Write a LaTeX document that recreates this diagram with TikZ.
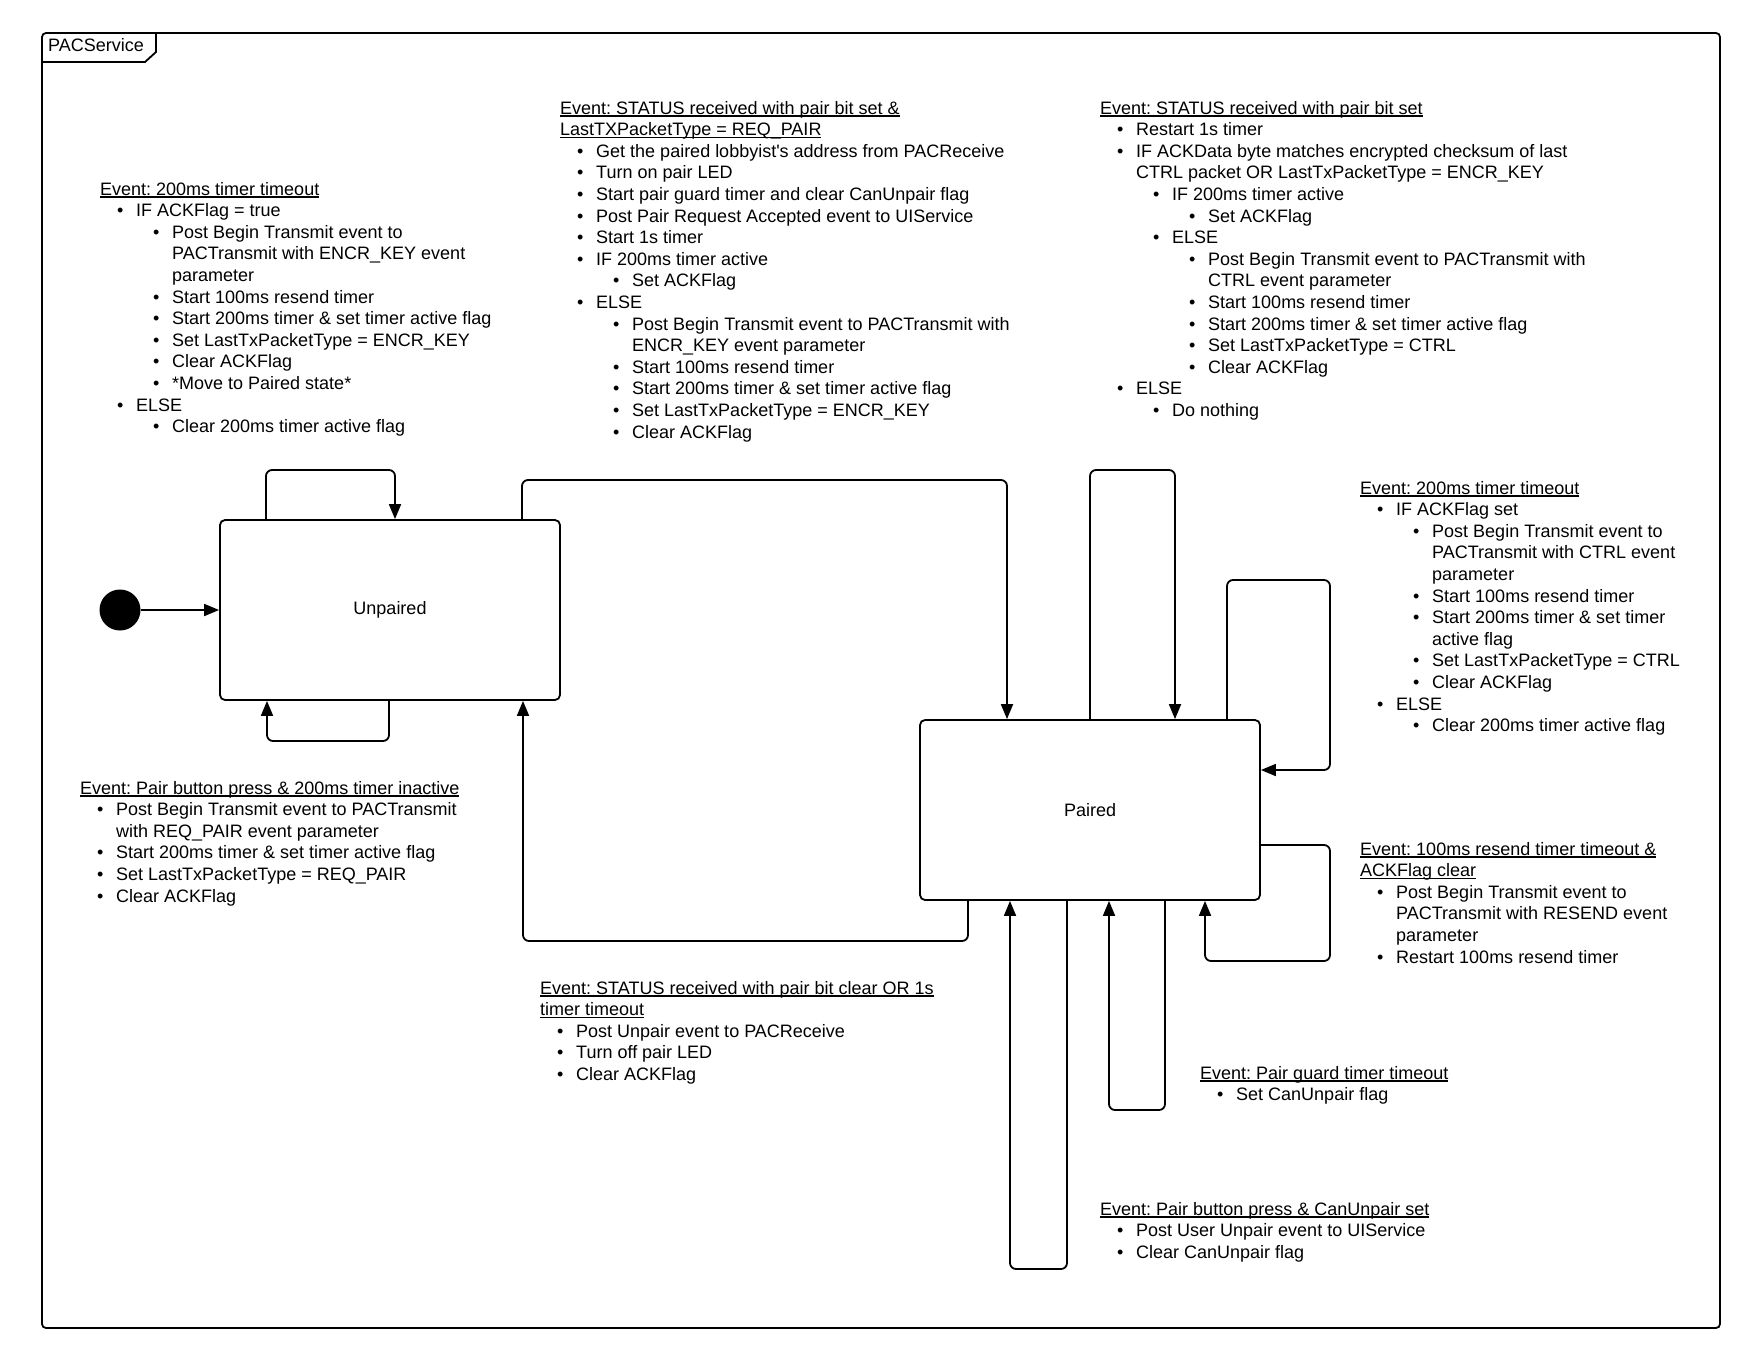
\documentclass[tikz,border=0pt]{standalone}
\usepackage{fontspec}
\setmainfont{Liberation Sans}[Ligatures=TeXOff]
\usetikzlibrary{arrows.meta,calc}
\newcommand\ulx[1]{\leavevmode\setbox0=\hbox{#1}\rlap{\rule[-2.6pt]{\wd0}{1.2pt}}\box0}
\newcommand\hd[1]{\ulx{#1}\par}
\newcommand\bi[2]{\hspace*{\dimexpr36pt*#1-19pt\relax}\makebox[19pt][l]{\textbullet}#2\par}
\newcommand\bc[2]{\hspace*{\dimexpr36pt*#1\relax}#2\par}
\newcommand\blk[1]{\parbox[t]{620pt}{\fontsize{18}{21.6}\selectfont\frenchspacing\raggedright #1}}
\begin{document}
\begin{tikzpicture}[x=1pt,y=-1pt,
  every node/.style={font=\fontsize{18}{21.6}\selectfont},
  state/.style={draw, line width=1.8pt, rounded corners=5pt, minimum width=340pt, minimum height=180pt, inner sep=0pt},
  conn/.style={line width=1.8pt, rounded corners=6pt},
  arr/.style={conn, -{Triangle[length=15pt,width=12pt]}},
  txt/.style={anchor=base west, inner sep=0pt}]
\useasboundingbox (0,0) rectangle (1760,1360);
% frame
\draw[line width=1.8pt, rounded corners=4pt] (42,33) rectangle (1720,1328);
\draw[line width=1.8pt] (42,62) -- (145,62) -- (156,52) -- (156,33);
\node[txt] (title) at (48,51) {PACService};
% states
\node[circle, fill=black, inner sep=0pt, minimum size=41pt] (init) at (120,610) {};
\node[state] (unp) at (390,610) {Unpaired};
\node[state] (pai) at (1090,810) {Paired};
% connectors
\draw[arr] (init) -- (init -| unp.west);
\draw[arr] (266,0 |- unp.north) -- (266,470) -- (395,470) -- (395,0 |- unp.north);
\draw[arr] (389,0 |- unp.south) -- (389,741) -- (267,741) -- (267,0 |- unp.south);
\draw[arr] (522,0 |- unp.north) -- (522,480) -- (1007,480) -- (1007,0 |- pai.north);
\draw[arr] (968,0 |- pai.south) -- (968,941) -- (523,941) -- (523,0 |- unp.south);
\draw[arr] (1090,0 |- pai.north) -- (1090,470) -- (1175,470) -- (1175,0 |- pai.north);
\draw[arr] (1227,0 |- pai.north) -- (1227,580) -- (1330,580) -- (1330,770) -- (pai.east |- 0,770);
\draw[arr] (pai.east |- 0,845) -- (1330,845) -- (1330,961) -- (1205,961) -- (1205,0 |- pai.south);
\draw[arr] (1165,0 |- pai.south) -- (1165,1110) -- (1109,1110) -- (1109,0 |- pai.south);
\draw[arr] (1067,0 |- pai.south) -- (1067,1269) -- (1010,1269) -- (1010,0 |- pai.south);
% text blocks
\node[txt] (t1) at (100,195) {\blk{%
\hd{Event: 200ms timer timeout}
\bi{1}{IF ACKFlag = true}
\bi{2}{Post Begin Transmit event to}
\bc{2}{PACTransmit with ENCR\_KEY event}
\bc{2}{parameter}
\bi{2}{Start 100ms resend timer}
\bi{2}{Start 200ms timer \& set timer active flag}
\bi{2}{Set LastTxPacketType = ENCR\_KEY}
\bi{2}{Clear ACKFlag}
\bi{2}{*Move to Paired state*}
\bi{1}{ELSE}
\bi{2}{Clear 200ms timer active flag}}};
\node[txt] (t2) at (560,114) {\blk{%
\hd{Event: STATUS received with pair bit set \&}
\hd{LastTXPacketType = REQ\_PAIR}
\bi{1}{Get the paired lobbyist's address from PACReceive}
\bi{1}{Turn on pair LED}
\bi{1}{Start pair guard timer and clear CanUnpair flag}
\bi{1}{Post Pair Request Accepted event to UIService}
\bi{1}{Start 1s timer}
\bi{1}{IF 200ms timer active}
\bi{2}{Set ACKFlag}
\bi{1}{ELSE}
\bi{2}{Post Begin Transmit event to PACTransmit with}
\bc{2}{ENCR\_KEY event parameter}
\bi{2}{Start 100ms resend timer}
\bi{2}{Start 200ms timer \& set timer active flag}
\bi{2}{Set LastTxPacketType = ENCR\_KEY}
\bi{2}{Clear ACKFlag}}};
\node[txt] (t3) at (1100,114) {\blk{%
\hd{Event: STATUS received with pair bit set}
\bi{1}{Restart 1s timer}
\bi{1}{IF ACKData byte matches encrypted checksum of last}
\bc{1}{CTRL packet OR LastTxPacketType = ENCR\_KEY}
\bi{2}{IF 200ms timer active}
\bi{3}{Set ACKFlag}
\bi{2}{ELSE}
\bi{3}{Post Begin Transmit event to PACTransmit with}
\bc{3}{CTRL event parameter}
\bi{3}{Start 100ms resend timer}
\bi{3}{Start 200ms timer \& set timer active flag}
\bi{3}{Set LastTxPacketType = CTRL}
\bi{3}{Clear ACKFlag}
\bi{1}{ELSE}
\bi{2}{Do nothing}}};
\node[txt] (t4) at (1360,494) {\blk{%
\hd{Event: 200ms timer timeout}
\bi{1}{IF ACKFlag set}
\bi{2}{Post Begin Transmit event to}
\bc{2}{PACTransmit with CTRL event}
\bc{2}{parameter}
\bi{2}{Start 100ms resend timer}
\bi{2}{Start 200ms timer \& set timer}
\bc{2}{active flag}
\bi{2}{Set LastTxPacketType = CTRL}
\bi{2}{Clear ACKFlag}
\bi{1}{ELSE}
\bi{2}{Clear 200ms timer active flag}}};
\node[txt] (t5) at (1360,855) {\blk{%
\hd{Event: 100ms resend timer timeout \&}
\hd{ACKFlag clear}
\bi{1}{Post Begin Transmit event to}
\bc{1}{PACTransmit with RESEND event}
\bc{1}{parameter}
\bi{1}{Restart 100ms resend timer}}};
\node[txt] (t6) at (80,794) {\blk{%
\hd{Event: Pair button press \& 200ms timer inactive}
\bi{1}{Post Begin Transmit event to PACTransmit}
\bc{1}{with REQ\_PAIR event parameter}
\bi{1}{Start 200ms timer \& set timer active flag}
\bi{1}{Set LastTxPacketType = REQ\_PAIR}
\bi{1}{Clear ACKFlag}}};
\node[txt] (t7) at (540,994) {\blk{%
\hd{Event: STATUS received with pair bit clear OR 1s}
\hd{timer timeout}
\bi{1}{Post Unpair event to PACReceive}
\bi{1}{Turn off pair LED}
\bi{1}{Clear ACKFlag}}};
\node[txt] (t8) at (1200,1079) {\blk{%
\hd{Event: Pair guard timer timeout}
\bi{1}{Set CanUnpair flag}}};
\node[txt] (t9) at (1100,1215) {\blk{%
\hd{Event: Pair button press \& CanUnpair set}
\bi{1}{Post User Unpair event to UIService}
\bi{1}{Clear CanUnpair flag}}};
\end{tikzpicture}
\end{document}
